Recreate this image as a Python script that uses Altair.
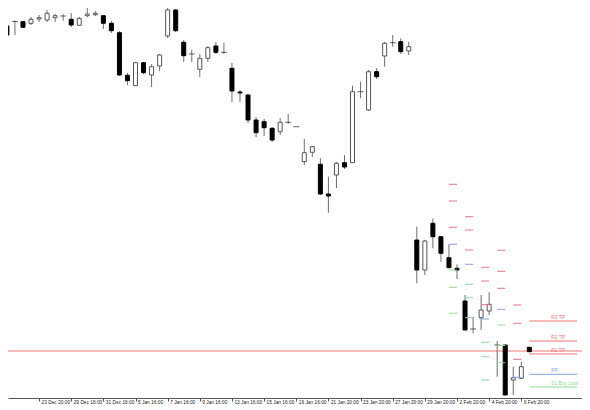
import altair as alt
import pandas as pd

# ---- bottom axis: one label every 4 bars ----
tick_index = list(range(0, 65, 4))
tick_labels = ["19 Dec 20:00", "23 Dec 20:00", "29 Dec 16:00", "31 Dec 16:00",
               "5 Jan 16:00", "7 Jan 16:00", "9 Jan 16:00", "13 Jan 16:00",
               "15 Jan 16:00", "19 Jan 16:00", "21 Jan 20:00", "23 Jan 20:00",
               "27 Jan 20:00", "29 Jan 20:00", "2 Feb 20:00", "4 Feb 20:00",
               "6 Feb 20:00"]

# ---- candles (price units) ----
opens = [374, 378.5, 378.3, 376.7, 381, 380, 382.3, 384, 380.7, 374.7,
         384.3, 385.3, 384.3, 376.7, 367.3, 324.7, 314.3, 337.3, 325, 334,
         364, 390, 357.7, 346, 330.7, 341.7, 354, 347.7, 331.7, 308,
         305, 280, 278.3, 271.7, 268.3, 277.7, 273.3, 238.3, 247.7, 235.7,
         206, 225, 237.3, 237.3, 308.3, 290, 328.3, 344, 357.3, 358.3,
         349, 160, 130, 176.7, 163.3, 142.3, 131.7, 99, 71, 82.3,
         89, 55, 55, 20, 21.7, 52.7]
highs = [375, 379.5, 379, 383, 385, 390, 386, 385.7, 387, 383,
         393.3, 389, 385, 379, 369, 327, 338, 338, 336, 346,
         393, 391, 360, 350, 346, 354, 358, 357.3, 337, 310,
         306, 283, 281, 273, 282, 286, 273.3, 261, 254, 242,
         223.3, 238, 245, 314.3, 318.3, 330, 332, 358, 365, 361.7,
         358.3, 173.3, 160, 181.7, 163.3, 155.7, 135.7, 105, 83.3, 105,
         107.7, 59, 55, 33.3, 38.3, 52.7]
lows = [364, 365, 372, 375, 378, 378, 378, 379.3, 373, 374,
        382.7, 384, 371, 367, 324, 315, 314, 326, 313, 329,
        362, 368, 338, 338, 323, 338, 346, 346, 298, 298,
        277, 263, 264, 258, 265, 276, 273.3, 235, 243, 205,
        187.3, 212, 231, 237.3, 301.7, 289, 321, 333.3, 353.3, 346,
        345, 116.7, 125, 151.7, 138.3, 132, 121, 70, 66.7, 70,
        85, 23.3, 5, 5, 21.7, 48.3]
closes = [365, 378.5, 372.7, 380.7, 382.3, 386.7, 384.3, 384, 375, 381.7,
          386, 386.7, 376.7, 369.3, 325, 319.3, 337.3, 327.3, 333.3, 345,
          390, 369.3, 344.3, 346, 341.7, 352.3, 347.7, 347.7, 309, 307,
          280, 267.3, 272.3, 260, 277.7, 277.7, 273.3, 247.3, 253.3, 206,
          204, 236.7, 233, 308.3, 308.3, 328.3, 323.3, 356.7, 357.3, 348.3,
          353.3, 130, 159, 163.3, 146.7, 132.3, 130, 70, 71, 90,
          95.7, 55, 5, 22.3, 33.3, 48.3]

# ---- daily pivot levels (short dashes, one group per day) ----
pivot_names = ["R3", "R2", "R1", "PP", "S1", "S2", "S3"]
pivot_day_start = [55, 57, 59, 61, 63]
pivot_day1 = [215.7, 199, 172.7, 155.7, 130, 112.7, 86.7]
pivot_day2 = [183.3, 170, 150, 135.7, 115.7, 102.3, 82.3]
pivot_day3 = [132.7, 119, 95.4, 81, 57.7, 43.3, 20]
pivot_day4 = [149.7, 128.7, 111.7, 90.7, 75, 54.5, 37.3]
pivot_day5 = [95, 76.7, 40.7, 22.7]

# ---- current-day trade plan lines ----
plan_labels = ["R3 TP", "R2 TP", "R1 TP", "PP", "S1 Buy Limit"]
plan_levels = ["R3", "R2", "R1", "PP", "S1"]
plan_values = [79, 59, 46, 25.7, 13]
plan_start = 65
alert_price = [49]

X_MIN, X_MAX = 0.758, 70.93
Y_MIN, Y_MAX = 2, 392

candles = pd.DataFrame({"i": list(range(len(opens))), "open": opens, "high": highs,
                        "low": lows, "close": closes})

rows = []
for start, vals in zip(pivot_day_start, [pivot_day1, pivot_day2, pivot_day3, pivot_day4, pivot_day5]):
    for name, v in zip(pivot_names, vals):
        rows.append({"start": start, "end": start + 1, "level": name, "value": v})
pivots = pd.DataFrame(rows)

plan = pd.DataFrame({"start": [plan_start] * len(plan_values), "end": [X_MAX] * len(plan_values),
                     "level": plan_levels, "label": plan_labels, "value": plan_values})
alert = pd.DataFrame({"value": alert_price})

xscale = alt.Scale(domain=[X_MIN, X_MAX], nice=False, zero=False)
yscale = alt.Scale(domain=[Y_MIN, Y_MAX], nice=False, zero=False)
cscale = alt.Scale(domain=["R3", "R2", "R1", "PP", "S1", "S2", "S3"],
                   range=["#f07474", "#f07474", "#f07474", "#7ea5ea", "#8fdc8f", "#8fdc8f", "#8fdc8f"])

FONT = "Liberation Sans Narrow, Liberation Sans, Arial, sans-serif"
label_expr = "[" + ",".join("'%s'" % t for t in tick_labels) + "][round(datum.value / 4)]"
xaxis = alt.Axis(values=tick_index, tickCount=40, labelExpr=label_expr, grid=False, title=None,
                 domainColor="#555555", tickColor="#555555", tickSize=3,
                 labelFontSize=4.8, labelFont=FONT, labelColor="#222222",
                 labelAlign="left", labelOffset=2, labelPadding=-2, labelBaseline="top",
                 labelOverlap=False, labelBound=False, labelFlush=False)

X = alt.X("i:Q", scale=xscale, axis=xaxis)

alert_line = alt.Chart(alert).mark_rule(color="#f07474", strokeWidth=1, clip=True).encode(
    y=alt.Y("value:Q", scale=yscale, axis=None))

wicks = alt.Chart(candles).mark_rule(color="#6e6e6e", strokeWidth=1, clip=True).encode(
    x=X, y=alt.Y("low:Q", scale=yscale, axis=None), y2="high:Q")

bodies = alt.Chart(candles).transform_filter("datum.open != datum.close").mark_bar(
    size=4, strokeWidth=1, clip=True).encode(
    x=X, y=alt.Y("open:Q", scale=yscale, axis=None), y2="close:Q",
    fill=alt.condition("datum.close > datum.open", alt.value("white"), alt.value("black")),
    stroke=alt.condition("datum.close > datum.open", alt.value("#555555"), alt.value("black")))

dojis = alt.Chart(candles).transform_filter("datum.open == datum.close").mark_tick(
    orient="horizontal", size=6, thickness=1, color="#222222", clip=True).encode(
    x=X, y=alt.Y("open:Q", scale=yscale, axis=None))

dashes = alt.Chart(pivots).mark_rule(strokeWidth=1, clip=True).encode(
    x=alt.X("start:Q", scale=xscale), x2="end:Q",
    y=alt.Y("value:Q", scale=yscale, axis=None),
    color=alt.Color("level:N", scale=cscale, legend=None))

plan_lines = alt.Chart(plan).mark_rule(strokeWidth=1, clip=True).encode(
    x=alt.X("start:Q", scale=xscale), x2="end:Q",
    y=alt.Y("value:Q", scale=yscale, axis=None),
    color=alt.Color("level:N", scale=cscale, legend=None))

plan_text = alt.Chart(plan).mark_text(align="left", baseline="alphabetic", dx=22, dy=-2,
                                      fontSize=4.8, font=FONT, clip=True).encode(
    x=alt.X("start:Q", scale=xscale), y=alt.Y("value:Q", scale=yscale, axis=None),
    text="label:N", color=alt.Color("level:N", scale=cscale, legend=None))

chart = alt.layer(alert_line, wicks, bodies, dojis, dashes, plan_lines, plan_text).properties(
    width=574, height=390, padding=0, background="white"
).configure_view(stroke=None)

chart.save("out.html", embed_options={"renderer": "svg", "actions": False})
